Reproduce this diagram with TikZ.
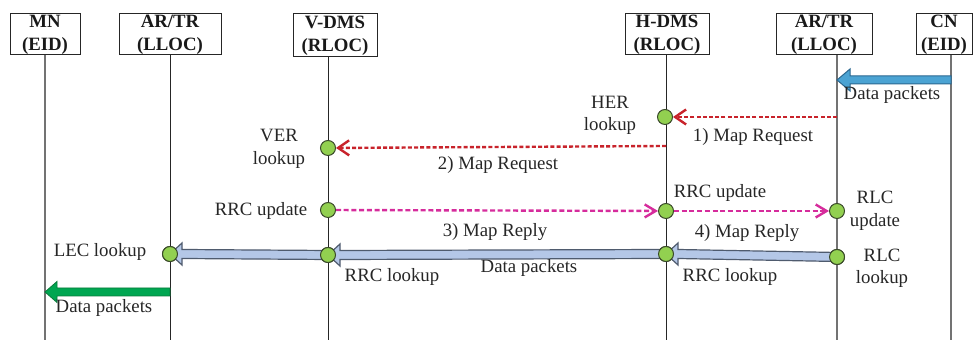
\documentclass[tikz,border=0pt]{standalone}
\usepackage{fontspec}
\setmainfont{Liberation Serif}
\usetikzlibrary{arrows.meta,calc}
\definecolor{dotgreen}{HTML}{92D050}
\definecolor{dotedge}{HTML}{3A4A2A}
\definecolor{reqred}{HTML}{C8232B}
\definecolor{updmag}{HTML}{D62C9C}
\definecolor{paleblue}{HTML}{B4C7E7}
\definecolor{paleedge}{HTML}{4F5B6E}
\definecolor{skyblue}{HTML}{4BA3D3}
\definecolor{skyedge}{HTML}{2B6890}
\definecolor{arrgreen}{HTML}{00A651}
\definecolor{arrgreenedge}{HTML}{0B7A3B}
\newcommand{\fatarrow}[6]{%
  \draw[#1] ($(#2)+(0,-#4)$) -- ($(#3)+(#6,-#4)$) -- ($(#3)+(#6,-#5)$) -- (#3)
    -- ($(#3)+(#6,#5)$) -- ($(#3)+(#6,#4)$) -- ($(#2)+(0,#4)$) -- cycle;}
\begin{document}
\begin{tikzpicture}[x=0.5pt,y=-0.5pt,
  font=\fontsize{9.4}{11.25}\selectfont,
  actor/.style={draw=black!85, line width=0.5pt, minimum height=20.5pt, inner sep=0pt,
    font=\fontsize{9.4}{11.5}\selectfont\bfseries, align=center, text=black!90},
  life/.style={line width=0.5pt, draw=black!85},
  lifeg/.style={line width=0.6pt, draw=black!55},
  dot/.style={circle, draw=dotedge, fill=dotgreen, minimum size=7.5pt, inner sep=0pt, line width=0.5pt},
  lbl/.style={anchor=base, inner sep=0pt, text=black!85},
  lbl2/.style={align=center, inner sep=0pt, text=black!85},
  req/.style={draw=reqred, line width=1.2pt, dash pattern=on 2pt off 1.1pt,
    -{Straight Barb[length=5.5pt,width=7.5pt,line width=1.2pt]}},
  upd/.style={draw=updmag, line width=1.2pt, dash pattern=on 2.5pt off 1.35pt,
    -{Straight Barb[length=5.5pt,width=6.5pt,line width=1.2pt]}},
  palearrow/.style={fill=paleblue, draw=paleedge, line width=0.6pt, line join=miter},
  skyarrow/.style={fill=skyblue, draw=skyedge, line width=0.5pt, line join=miter},
  grnarrow/.style={fill=arrgreen, draw=arrgreenedge, line width=0.4pt, line join=miter},
]
\useasboundingbox (0,0) rectangle (974,340);

% actors
\node[actor, minimum width=35pt] (mn) at (45,34.5) {MN\\(EID)};
\node[actor, minimum width=51pt] (arl) at (170,34.5) {AR/TR\\(LLOC)};
\node[actor, minimum width=42pt, minimum height=21.5pt] (vdms) at (335,35.5) {V-DMS\\(RLOC)};
\node[actor, minimum width=42pt] (hdms) at (667,34.5) {H-DMS\\(RLOC)};
\node[actor, minimum width=48pt] (arr) at (824,34.5) {AR/TR\\(LLOC)};
\node[actor, minimum width=28pt] (cn) at (944,34.5) {CN\\(EID)};

% lifeline ends
\coordinate (mnB) at (45,340);
\coordinate (arlB) at (170,340);
\coordinate (vdmsB) at (328,340);
\coordinate (hdmsB) at (666,340);
\coordinate (arrB) at (837,340);
\coordinate (cnB) at (951,340);
\draw[lifeg] (mn.south -| mnB) -- (mnB);
\draw[life] (arl.south -| arlB) -- (arlB);
\draw[life] (vdms.south -| vdmsB) -- (vdmsB);
\draw[life] (hdms.south -| hdmsB) -- (hdmsB);
\draw[lifeg] (arr.south -| arrB) -- (arrB);
\draw[lifeg] (cn.south -| cnB) -- (cnB);

% points
\coordinate (cnA) at (951,80);
\coordinate (arA) at (837,80);
\coordinate (reqS) at (837,117);
\coordinate (req2S) at (666,146);
\coordinate (grS) at (170,292);
\coordinate (grE) at (45,292);

\node[dot] (her) at (665,117) {};
\node[dot] (ver) at (328,148) {};
\node[dot] (rrcV) at (328,210) {};
\node[dot] (rrcH) at (666,211) {};
\node[dot] (rlcU) at (837,211) {};
\node[dot] (lec) at (170,254) {};
\node[dot] (rrcVl) at (328,255) {};
\node[dot] (rrcHl) at (666,254) {};
\node[dot] (rlcL) at (837,257) {};

% fat arrows
\fatarrow{skyarrow}{cnA}{arA}{4}{11}{13}
\fatarrow{palearrow}{rlcL.center}{rrcHl.center}{4.5}{11}{12}
\fatarrow{palearrow}{rrcHl.center}{rrcVl.center}{4.5}{11}{12}
\fatarrow{palearrow}{rrcVl.center}{lec.center}{4.5}{11}{12}
\fatarrow{grnarrow}{grS}{grE}{4}{10.5}{12}

% redraw dots on top of the fat arrows
\node[dot] at (rrcHl) {};
\node[dot] at (rrcVl) {};
\node[dot] at (lec) {};
\node[dot] at (rlcL) {};

% dashed messages
\draw[req] (reqS) -- (her);
\draw[req] (req2S) -- (ver);
\draw[upd] (rrcV) -- (rrcH);
\draw[upd] (rrcH) -- (rlcU);

% labels
\node[lbl] (t1) at (753,142) {1) Map Request};
\node[lbl] (t2) at (498,170) {2) Map Request};
\node[lbl] (t3) at (495,237) {3) Map Reply};
\node[lbl] (t4) at (747,238) {4) Map Reply};
\node[lbl] (t5) at (529,273) {Data packets};
\node[lbl] (t6) at (392,282) {RRC lookup};
\node[lbl] (t7) at (730,282) {RRC lookup};
\node[lbl] (t8) at (100,257) {LEC lookup};
\node[lbl] (t9) at (261,216) {RRC update};
\node[lbl] (t10) at (720,198) {RRC update};
\node[lbl] (t11) at (104,313) {Data packets};
\node[lbl] (t12) at (892,100) {Data packets};
\node[lbl2] (t13) at (610,115.4) {HER\\lookup};
\node[lbl2] (t14) at (279,148.9) {VER\\lookup};
\node[lbl2] (t15) at (875,210.9) {RLC\\update};
\node[lbl2] (t16) at (882,268.3) {RLC\\lookup};
\end{tikzpicture}
\end{document}
